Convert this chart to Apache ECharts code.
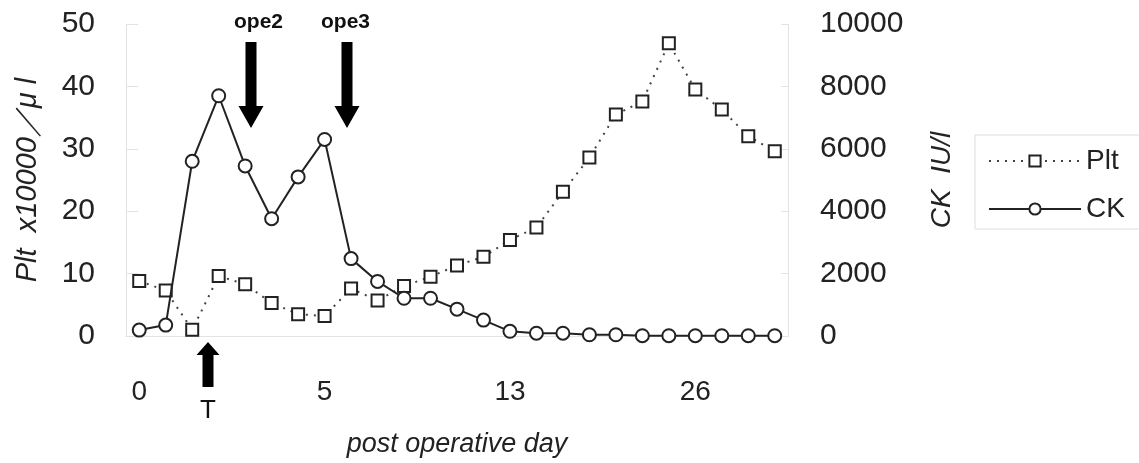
<!DOCTYPE html>
<html>
<head>
<meta charset="utf-8">
<script src="https://cdn.jsdelivr.net/npm/echarts@6/dist/echarts.min.js"></script>
<style>
  html, body { margin: 0; padding: 0; background: #fff; }
  #main { width: 1139px; height: 463px; }
</style>
</head>
<body>
<div id="main"></div>
<script>
// x axis: one category per measurement, only a few are labelled
var dayLabels = ['0', '', '', '', '', '', '', '5', '', '', '', '', '', '', '13', '', '', '', '', '', '', '26', '', '', ''];
// Plt (x10000/μl)
var plt = [8.8, 7.3, 1.0, 9.6, 8.3, 5.3, 3.5, 3.2, 7.6, 5.7, 8.0, 9.5, 11.3, 12.7, 15.4, 17.4, 23.1, 28.6, 35.5, 37.6, 46.9, 39.5, 36.3, 32.0, 29.6];
// CK (IU/l)
var ck = [190, 350, 5600, 7700, 5450, 3760, 5100, 6300, 2480, 1750, 1210, 1210, 860, 510, 150, 90, 90, 40, 40, 10, 10, 10, 10, 10, 10];
var pltTicks = [0, 10, 20, 30, 40, 50];
var ckTicks = [0, 2000, 4000, 6000, 8000, 10000];

var font = '"Liberation Sans", Arial, sans-serif';
var chart = echarts.init(document.getElementById('main'));

// arrow shapes (annotations)
function downArrow(cx, top, headY, tip) {
  return [[cx - 5.5, top], [cx + 5.5, top], [cx + 5.5, headY], [cx + 12.5, headY],
          [cx, tip], [cx - 12.5, headY], [cx - 5.5, headY]];
}
function upArrow(cx, tip, headY, bottom) {
  return [[cx, tip], [cx + 11.5, headY], [cx + 5.5, headY], [cx + 5.5, bottom],
          [cx - 5.5, bottom], [cx - 5.5, headY], [cx - 11.5, headY]];
}

chart.setOption({
  animation: false,
  textStyle: { fontFamily: font },
  grid: { left: 126, right: 351, top: 24, bottom: 125 },
  legend: {
    orient: 'vertical',
    left: 975,
    top: 135,
    padding: [12, 40, 6, 13],
    itemWidth: 92,
    itemHeight: 14,
    itemGap: 20,
    borderColor: '#ddd',
    borderWidth: 1,
    textStyle: { fontSize: 28, color: '#222', fontFamily: font },
    data: ['Plt', 'CK']
  },
  xAxis: {
    type: 'category',
    data: dayLabels,
    boundaryGap: true,
    name: 'post operative day',
    nameLocation: 'middle',
    nameGap: 95,
    nameTextStyle: { fontSize: 27, fontStyle: 'italic', color: '#222', fontFamily: font },
    axisLine: { lineStyle: { color: '#e3e3e3', width: 1 } },
    axisTick: { show: false },
    axisLabel: { interval: 0, fontSize: 28, color: '#222', margin: 42 }
  },
  yAxis: [
    {
      type: 'value',
      min: pltTicks[0],
      max: pltTicks[pltTicks.length - 1],
      interval: pltTicks[1] - pltTicks[0],
      name: 'Plt  x10000\uff0f\u03bc l',
      nameLocation: 'middle',
      nameGap: 84,
      nameTextStyle: { fontSize: 29, fontStyle: 'italic', color: '#222', fontFamily: font },
      axisLine: { show: true, lineStyle: { color: '#e3e3e3' } },
      axisTick: { show: true, inside: true, length: 12, lineStyle: { color: '#e3e3e3' } },
      splitLine: { show: false },
      axisLabel: { fontSize: 30, color: '#222', margin: 31 }
    },
    {
      type: 'value',
      position: 'right',
      min: ckTicks[0],
      max: ckTicks[ckTicks.length - 1],
      interval: ckTicks[1] - ckTicks[0],
      name: 'CK  IU/l',
      nameLocation: 'middle',
      nameGap: 140,
      nameTextStyle: { fontSize: 28, fontStyle: 'italic', color: '#222', fontFamily: font },
      axisLine: { show: true, lineStyle: { color: '#e3e3e3' } },
      axisTick: { show: true, inside: true, length: 7, lineStyle: { color: '#e3e3e3' } },
      splitLine: { show: false },
      axisLabel: {
        fontSize: 30, color: '#222', margin: 32,
        formatter: function (v) { return String(v); }
      }
    }
  ],
  series: [
    {
      name: 'Plt',
      type: 'line',
      yAxisIndex: 0,
      data: plt,
      symbol: 'rect',
      symbolSize: 12,
      itemStyle: { color: '#fff', borderColor: '#222', borderWidth: 2 },
      lineStyle: { color: '#444', width: 2, type: [2, 6] },
      z: 3
    },
    {
      name: 'CK',
      type: 'line',
      yAxisIndex: 1,
      data: ck,
      symbol: 'circle',
      symbolSize: 13,
      itemStyle: { color: '#fff', borderColor: '#222', borderWidth: 2 },
      lineStyle: { color: '#222', width: 2 },
      z: 4
    }
  ],
  graphic: [
    { type: 'polygon', shape: { points: downArrow(251, 42, 106, 128) }, style: { fill: '#000' } },
    { type: 'polygon', shape: { points: downArrow(347, 42, 106, 128) }, style: { fill: '#000' } },
    { type: 'polygon', shape: { points: upArrow(208, 342, 355, 387) }, style: { fill: '#000' } },
    { type: 'text', left: 234, top: 12, style: { text: 'ope2', font: 'bold 21px ' + font, fill: '#111' } },
    { type: 'text', left: 321, top: 12, style: { text: 'ope3', font: 'bold 21px ' + font, fill: '#111' } },
    { type: 'text', left: 200, top: 398, style: { text: 'T', font: '26px ' + font, fill: '#111' } }
  ]
});
</script>
</body>
</html>
